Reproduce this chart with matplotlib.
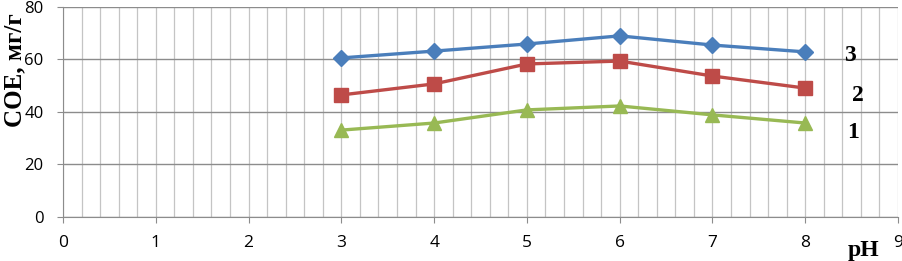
import matplotlib
matplotlib.use('Agg')
import matplotlib.pyplot as plt
from matplotlib.ticker import MultipleLocator

# pH values and sorption capacity (СОЕ, мг/г) for three sorbents
ph = [3, 4, 5, 6, 7, 8]
soe_1 = [33.1, 35.8, 40.8, 42.3, 38.9, 35.8]
soe_2 = [46.5, 50.7, 58.3, 59.4, 53.7, 49.1]
soe_3 = [60.6, 63.2, 65.9, 69.0, 65.5, 62.9]
curve_labels = ['1', '2', '3']

fig = plt.figure(figsize=(9.03, 2.61), dpi=100)
ax = fig.add_axes([0.0698, 0.1686, 0.9247, 0.8046])

ax.plot(ph, soe_3, color='#4A7EBB', lw=2.4, marker='D', ms=8, zorder=3)
ax.plot(ph, soe_2, color='#BE4B48', lw=2.4, marker='s', ms=10, zorder=3)
ax.plot(ph, soe_1, color='#98B954', lw=2.4, marker='^', ms=10, zorder=3)

ax.set_xlim(0, 9)
ax.set_ylim(0, 80)
ax.xaxis.set_major_locator(MultipleLocator(1))
ax.xaxis.set_minor_locator(MultipleLocator(0.2))
ax.yaxis.set_major_locator(MultipleLocator(20))

ax.grid(True, which='major', axis='y', color='#8c8c8c', lw=1.0)
ax.grid(True, which='both', axis='x', color='#c4c4c4', lw=0.9)
ax.set_axisbelow(True)

for side in ['top', 'right']:
    ax.spines[side].set_visible(False)
for side in ['left', 'bottom']:
    ax.spines[side].set_color('#8c8c8c')

ax.tick_params(axis='both', which='major', direction='out', length=4,
               color='#8c8c8c')
ax.tick_params(axis='x', which='major', labelsize=12.5, pad=9)
ax.tick_params(axis='y', which='major', labelsize=12, pad=10)
ax.tick_params(axis='x', which='minor', length=0)
for lbl in ax.get_xticklabels() + ax.get_yticklabels():
    lbl.set_fontfamily('Open Sans')

ax.set_ylabel('СОЕ, мг/г', fontfamily='Liberation Serif', fontweight='bold',
              fontsize=18)
ax.yaxis.set_label_coords(-0.058, 0.70)
ax.yaxis.label.set_va('center')
ax.text(8.46, -8.8, 'pH', fontfamily='Liberation Serif', fontweight='bold',
        fontsize=17, ha='left', va='top', clip_on=False)

label_pos = {'1': (8.45, soe_1[-1]), '2': (8.5, soe_2[-1]), '3': (8.42, soe_3[-1])}
offsets = {'1': -3.5, '2': -3.0, '3': -1.5}
for name in curve_labels:
    x, y = label_pos[name]
    ax.text(x, y + offsets[name], name, fontfamily='Liberation Serif',
            fontweight='bold', fontsize=17, ha='left', va='center')

fig.savefig('out.png', dpi=100)
